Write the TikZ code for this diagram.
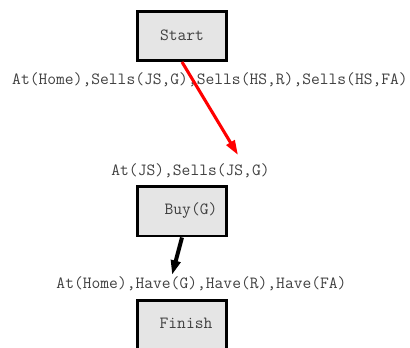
\documentclass[tikz,border=0pt]{standalone}
\usepackage{fontspec}
\usetikzlibrary{arrows.meta}
\begin{document}
\begin{tikzpicture}[x=0.75pt, y=-0.75pt, font=\ttfamily\fontsize{12.8}{14}\selectfont, >={Triangle[length=11pt, width=7pt]}]
  \tikzset{stepbox/.style={draw=black, line width=2pt, fill=black!10, minimum width=67pt, minimum height=37pt, inner sep=0pt},
           cond/.style={text=black!75, inner sep=1pt}}
  \useasboundingbox (0,0) rectangle (410,348);
  \clip (0,0) rectangle (410,348);
  % steps
  \node[stepbox] (start) at (182,36) {};
  \node[cond] (starttxt) at (182,35) {Start};
  \node[stepbox] (buy) at (182,211.5) {};
  \node[cond] (buytxt) at (191,211) {Buy(G)};
  \node[stepbox] (finish) at (182,325) {};
  \node[cond] (finishtxt) at (186,323) {Finish};
  % preconditions
  \node[cond] (init) at (210,80) {At(Home),Sells(JS,G),Sells(HS,R),Sells(HS,FA)};
  \node[cond] (pre) at (190.5,171) {At(JS),Sells(JS,G)};
  \node[cond] (goal) at (201.5,284) {At(Home),Have(G),Have(R),Have(FA)};
  \coordinate (redend) at (238,155);
  \coordinate (blackend) at (172,275);
  \draw[->, draw=red, line width=2.3pt] (start.south) -- (redend);
  \draw[->, draw=black, line width=3pt] (buy.south) -- (blackend);
\end{tikzpicture}
\end{document}
